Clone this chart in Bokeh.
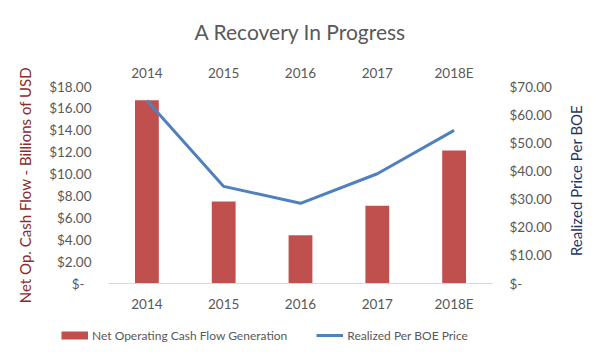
import math
from bokeh.plotting import figure
from bokeh.layouts import row
from bokeh.models import (Range1d, LinearAxis, CategoricalAxis, FactorRange, FixedTicker,
                          CustomJSTickFormatter, Legend, LegendItem, Label)
from bokeh.embed import file_html
from bokeh.resources import INLINE

years = ["2014", "2015", "2016", "2017", "2018E"]
cash_flow = [16.75, 7.5, 4.4, 7.1, 12.15]
price_boe = [65.0, 34.5, 28.5, 39.0, 54.4]
left_ticks = [0, 2, 4, 6, 8, 10, 12, 14, 16, 18]
right_ticks = [0, 10, 20, 30, 40, 50, 60, 70]
series_names = ["Net Operating Cash Flow Generation", "Realized Per BOE Price"]
right_title = "Realized Price Per BOE"

FONT = "Lato"
GREY = "#595959"
RED = "#C0504D"
BLUE = "#4F81BD"

p = figure(width=560, height=320, x_range=FactorRange(*years), y_range=Range1d(0, 18),
           output_backend="svg", toolbar_location=None,
           min_border_left=108, min_border_right=68, min_border_top=82, min_border_bottom=37)
p.outline_line_color = None
p.xgrid.visible = False
p.ygrid.visible = False
p.background_fill_color = "white"
p.border_fill_color = "white"

p.title.text = "A Recovery In Progress"
p.title.align = "center"
p.title.vertical_align = "middle"
p.title.text_font = FONT
p.title.text_font_size = "21px"
p.title.text_font_style = "normal"
p.title.text_color = GREY
p.title.standoff = 34

p.extra_y_ranges = {"price": Range1d(0, 70)}

fmt = CustomJSTickFormatter(code='return tick == 0 ? "$-\\u00a0\\u00a0" : "$" + tick.toFixed(2);')


def plain(ax, standoff):
    ax.axis_line_color = None
    ax.major_tick_line_color = None
    ax.minor_tick_line_color = None
    ax.major_tick_out = 0
    ax.major_tick_in = 0
    ax.minor_tick_out = 0
    ax.minor_tick_in = 0
    ax.major_label_text_font = FONT
    ax.major_label_text_font_size = "13.5px"
    ax.major_label_text_color = GREY
    ax.major_label_standoff = standoff


# left axis
ya = p.yaxis[0]
ya.ticker = FixedTicker(ticks=left_ticks)
ya.formatter = fmt
plain(ya, 17)
ya.axis_label = "Net Op. Cash Flow - Billions of USD"
ya.axis_label_text_font = FONT
ya.axis_label_text_font_size = "15px"
ya.axis_label_text_font_style = "normal"
ya.axis_label_text_color = "#8B2D2D"
ya.axis_label_standoff = 12

# right axis
ra = LinearAxis(y_range_name="price", ticker=FixedTicker(ticks=right_ticks), formatter=fmt)
plain(ra, 17)
p.add_layout(ra, "right")

# bottom axis
xa = p.xaxis[0]
plain(xa, 12)
xa.axis_line_color = "#D9D9D9"
xa.axis_line_width = 1

# top axis
ta = CategoricalAxis()
plain(ta, 6)
p.add_layout(ta, "above")

bars = p.vbar(x=years, top=cash_flow, width=0.31, fill_color=RED, line_color=None)
ln = p.line(x=years, y=price_boe, y_range_name="price", line_color=BLUE, line_width=3)

# narrow strip at the right holding the right-axis title (reads bottom-to-top)
rf = figure(width=25, height=320, output_backend="svg", toolbar_location=None,
            x_axis_location=None, y_axis_location=None,
            x_range=Range1d(0, 1), y_range=Range1d(0, 1),
            min_border_left=0, min_border_right=0, min_border_top=82, min_border_bottom=37)
rf.outline_line_color = None
rf.xgrid.visible = False
rf.ygrid.visible = False
rf.add_layout(Label(x=15, y=103, x_units="screen", y_units="screen", text=right_title,
                    angle=math.pi / 2, text_align="center", text_baseline="middle",
                    text_font=FONT, text_font_size="15px", text_color="#1F3864"))

# legend strip below the chart (separate root so nothing aligns its frame)
lf = figure(width=585, height=25, output_backend="svg", toolbar_location=None,
            x_axis_location=None, y_axis_location=None,
            x_range=Range1d(0, 1), y_range=Range1d(0, 1),
            min_border_left=0, min_border_right=0, min_border_top=0, min_border_bottom=0)
lf.outline_line_color = None
lf.xgrid.visible = False
lf.ygrid.visible = False
sw_bar = lf.line(x=[0], y=[0], line_color=RED, line_width=8)
sw_line = lf.line(x=[0], y=[0], line_color=BLUE, line_width=3)

legend = Legend(items=[LegendItem(label=series_names[0], renderers=[sw_bar]),
                       LegendItem(label=series_names[1], renderers=[sw_line])],
                orientation="horizontal", location=(61, 1),
                glyph_width=27, glyph_height=18, label_height=18, label_standoff=4, spacing=29,
                padding=0, margin=0, border_line_color=None, background_fill_alpha=0,
                label_text_font=FONT, label_text_font_size="12px", label_text_color=GREY)
lf.add_layout(legend)

top = row(p, rf, spacing=0)
open("out.html", "w").write(file_html([top, lf], INLINE))
